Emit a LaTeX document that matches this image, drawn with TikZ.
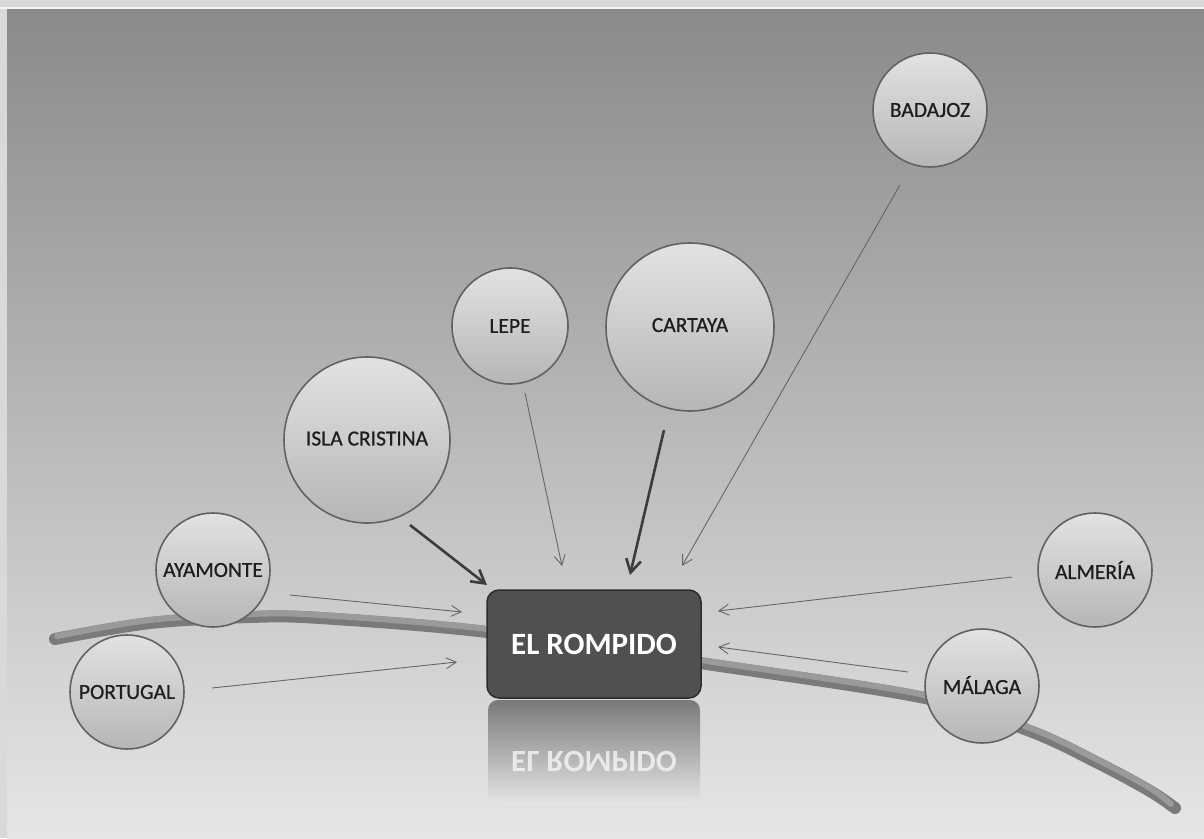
\documentclass[tikz,border=0pt]{standalone}
\usepackage{fontspec}
\setmainfont{Carlito}
\newfontfamily\ballfont[FakeBold=0.7]{Carlito}
\usetikzlibrary{arrows.meta}
\definecolor{bgtop}{HTML}{8A8A8A}
\definecolor{bgmid}{HTML}{B6B6B6}
\definecolor{bgbot}{HTML}{E6E6E6}
\definecolor{frame}{HTML}{D9D9D9}
\definecolor{ballhi}{HTML}{E2E2E2}
\definecolor{ballmid}{HTML}{C8C8C8}
\definecolor{balllo}{HTML}{B6B6B6}
\definecolor{ballrim}{HTML}{626262}
\definecolor{balltxt}{HTML}{1E1E1E}
\definecolor{boxfill}{HTML}{505050}
\definecolor{boxrim}{HTML}{2C2C2C}
\definecolor{curvedark}{HTML}{7A7A7A}
\definecolor{curvelight}{HTML}{9A9A9A}
\definecolor{thinarrow}{HTML}{666666}
\definecolor{thickarrow}{HTML}{3C3C3C}
\tikzset{
  ball/.style={circle, minimum size=#1, inner sep=0pt, draw=ballrim, line width=1.6pt,
    top color=ballhi, middle color=ballmid, bottom color=balllo,
    text=balltxt, font=\ballfont\fontsize{21.5}{22}\selectfont},
  centerbox/.style={rectangle, rounded corners=12pt, minimum width=214pt, minimum height=108pt,
    fill=boxfill, draw=boxrim, line width=1.5pt, text=white,
    font=\fontsize{31}{32}\selectfont\bfseries},
  thinarr/.style={draw=thinarrow, line width=0.9pt, -{Straight Barb[length=10pt,width=11pt,line width=0.9pt]}},
  thickarr/.style={draw=thickarrow, line width=2.6pt, -{Straight Barb[length=13pt,width=15pt,line width=2.6pt]}},
}
\begin{document}
\begin{tikzpicture}[x=1pt,y=-1pt]
\useasboundingbox (0,0) rectangle (1204,838);
% background
\fill[frame] (0,0) rectangle (1204,838);
\shade[top color=bgtop, middle color=bgmid, bottom color=bgbot] (7,8) rectangle (1204,838);
\fill[white!92!gray] (0,7) rectangle (1204,9);
% curve
\draw[curvedark, line width=12pt, line cap=round] plot[smooth, tension=0.55] coordinates
  {(55,639) (150,623) (250,617) (320,618) (487,632) (700,663) (925,698) (1030,731) (1100,764) (1150,791) (1175,808)};
\draw[curvelight, line width=6pt, line cap=round] plot[smooth, tension=0.55] coordinates
  {(57,636) (150,620) (250,614) (320,615) (487,629) (700,660) (925,695) (1030,728) (1100,761) (1150,788) (1171,804)};
% reflection
\shade[top color=gray!95!black, bottom color=bgbot, rounded corners=10pt]
  (488,700) rectangle (700,805);
\node[text=white!90!gray, font=\fontsize{31}{32}\selectfont\bfseries, yscale=-1, transform shape, opacity=0.85]
  (refl) at (594,762) {EL ROMPIDO};
% centre box
\node[centerbox] (rom) at (594,644) {EL ROMPIDO};
% balls
\node[ball=114pt] (bad) at (930,110) {BADAJOZ};
\node[ball=116pt] (lep) at (510,326) {LEPE};
\node[ball=168pt] (car) at (690,327) {\raisebox{4pt}{CARTAYA}};
\node[ball=166pt] (isl) at (367,440) {\raisebox{3pt}{ISLA CRISTINA}};
\node[ball=114pt] (aya) at (213,570) {AYAMONTE};
\node[ball=114pt] (por) at (127,692) {PORTUGAL};
\node[ball=114pt] (alm) at (1095,570) {ALMERÍA};
\node[ball=114pt] (mal) at (982,686) {\raisebox{2pt}{MÁLAGA}};
% arrow ends
\coordinate (bad-s) at (900,185);  \coordinate (bad-e) at (682,566);
\coordinate (lep-s) at (525,393);  \coordinate (lep-e) at (562,566);
\coordinate (car-s) at (664,430);  \coordinate (car-e) at (630,575);
\coordinate (isl-s) at (410,525);  \coordinate (isl-e) at (487,585);
\coordinate (aya-s) at (290,595);  \coordinate (aya-e) at (462,612);
\coordinate (por-s) at (212,688);  \coordinate (por-e) at (457,662);
\coordinate (alm-s) at (1012,577); \coordinate (alm-e) at (718,611);
\coordinate (mal-s) at (908,672);  \coordinate (mal-e) at (718,647);
\draw[thinarr] (bad-s) -- (bad-e);
\draw[thinarr] (lep-s) -- (lep-e);
\draw[thickarr] (car-s) -- (car-e);
\draw[thickarr] (isl-s) -- (isl-e);
\draw[thinarr] (aya-s) -- (aya-e);
\draw[thinarr] (por-s) -- (por-e);
\draw[thinarr] (alm-s) -- (alm-e);
\draw[thinarr] (mal-s) -- (mal-e);
\end{tikzpicture}
\end{document}
